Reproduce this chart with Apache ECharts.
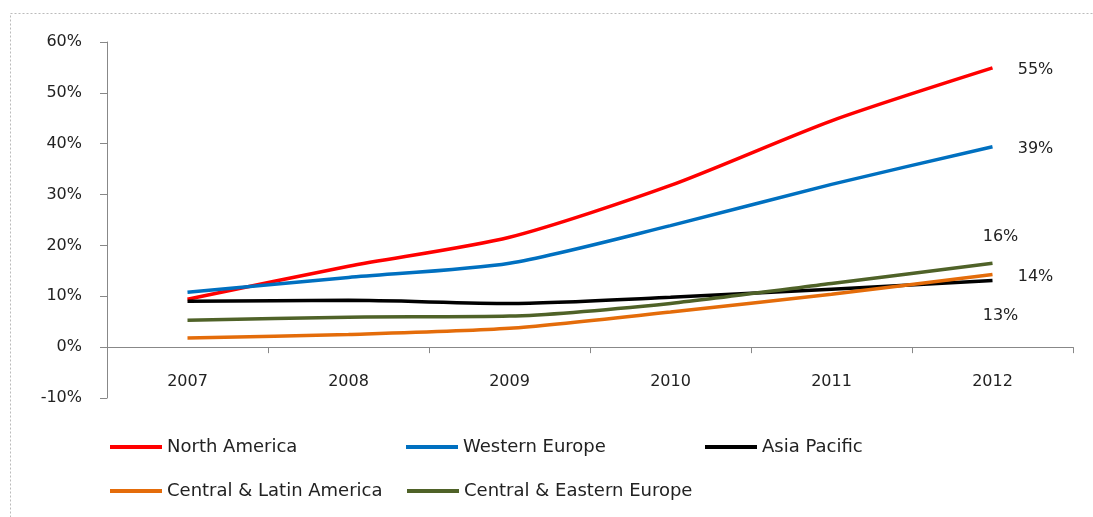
<!DOCTYPE html>
<html><head><meta charset="utf-8">
<script src="https://cdn.jsdelivr.net/npm/echarts@6/dist/echarts.min.js"></script>
<style>html,body{margin:0;padding:0;background:#fff}#c{width:1093px;height:517px}</style>
</head><body><div id="c"></div>
<script>
const years = ['2007','2008','2009','2010','2011','2012'];
const northAmerica = [9.4, 15.9, 21.6, 31.8, 44.5, 54.9];
const westernEurope = [10.8, 13.7, 16.5, 23.9, 32.0, 39.4];
const asiaPacific = [9.0, 9.2, 8.6, 9.8, 11.4, 13.1];
const centralLatinAmerica = [1.8, 2.5, 3.7, 6.9, 10.4, 14.3];
const centralEasternEurope = [5.3, 5.9, 6.1, 8.6, 12.5, 16.5];
const endLabels = ['55%', '39%', '13%', '14%', '16%'];
const names = ['North America','Western Europe','Asia Pacific','Central & Latin America','Central & Eastern Europe'];
const colors = ['#FF0000','#0070C0','#000000','#E46C0A','#4F6228'];
const seriesValues = [northAmerica, westernEurope, asiaPacific, centralLatinAmerica, centralEasternEurope];
const labelOffsets = [[43,2],[43,2],[8,35],[43,2],[8,-26]];
const legendPos = [[110,438],[406,438],[705,438],[110,482],[407,482]];

const font = "'DejaVu Sans', 'Liberation Sans', sans-serif";
const chart = echarts.init(document.getElementById('c'));
chart.setOption({
  animation: false,
  backgroundColor: '#fff',
  graphic: [{type:'rect', shape:{x:10.5,y:13.5,width:1100,height:520}, style:{fill:'none', stroke:'#bbb', lineWidth:1, lineDash:[2,2]}}],
  grid: {left:107, right:20, top:42, bottom:119},
  legend: names.map((n,i)=>({
    data:[n], left:legendPos[i][0], top:legendPos[i][1], padding:0, itemWidth:52, itemHeight:4, itemGap:0,
    icon:'rect', textStyle:{fontFamily:font, fontSize:18, color:'#222', padding:[0,0,0,0]}
  })),
  xAxis: {
    type:'category', data:years, boundaryGap:true,
    axisLine:{onZero:true, lineStyle:{color:'#888', width:1}},
    axisTick:{show:true, length:6, lineStyle:{color:'#888'}},
    axisLabel:{fontFamily:font, fontSize:16, color:'#222', margin:-24}
  },
  yAxis: {
    type:'value', min:-10, max:60, interval:10,
    axisLine:{show:true, lineStyle:{color:'#888'}},
    axisTick:{show:true, length:7, lineStyle:{color:'#888'}},
    splitLine:{show:false},
    axisLabel:{fontFamily:font, fontSize:16, color:'#222', margin:25, formatter:v=>v+'%'}
  },
  series: seriesValues.map((vals,i)=>({
    name:names[i], type:'line', smooth:0.25, symbol:'none', color:colors[i],
    lineStyle:{width:3.5, color:colors[i]},
    data: vals.map((v,j)=> j===vals.length-1 ? {value:v, symbol:'circle', symbolSize:0.1, label:{show:true, formatter:endLabels[i], position:'inside', offset:labelOffsets[i], fontFamily:font, fontSize:16, color:'#222'}} : v)
  }))
});
</script></body></html>
